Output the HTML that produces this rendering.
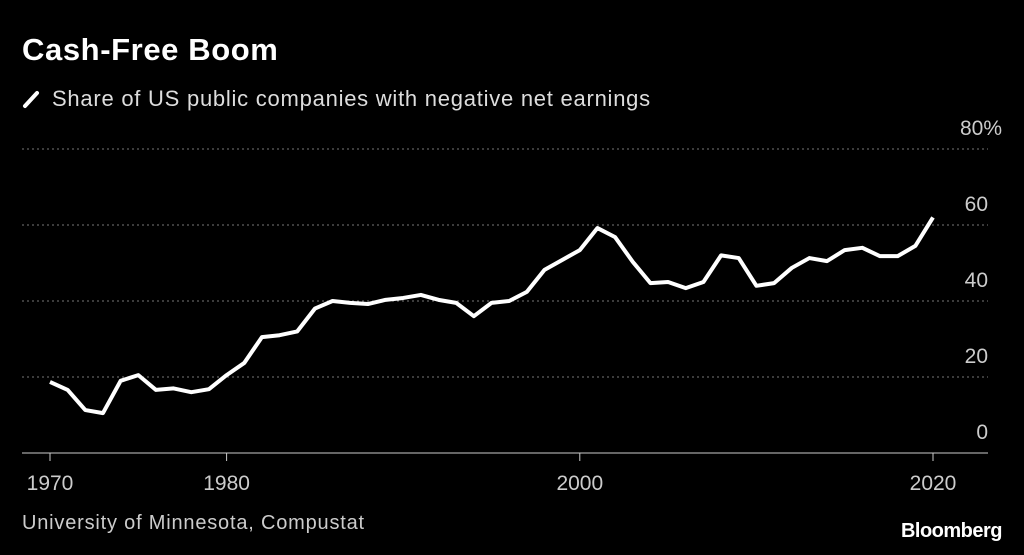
<!DOCTYPE html>
<html><head><meta charset="utf-8"><style>
html,body{margin:0;padding:0;background:#000;}
body{width:1024px;height:555px;overflow:hidden;font-family:"Liberation Sans",sans-serif;color:#fff;position:relative}
#title{position:absolute;left:22px;top:32px;font-size:31px;font-weight:bold;letter-spacing:0.6px}
#legend{position:absolute;left:22px;top:86px;font-size:22px;color:#ddd;letter-spacing:0.75px}
#source{position:absolute;left:22px;top:512px;font-size:20px;color:#ccc;letter-spacing:0.8px}
#brand{position:absolute;right:22px;top:520px;font-size:20px;font-weight:bold;letter-spacing:-0.5px}
svg{position:absolute;left:0;top:0}
</style></head><body>
<div id="title">Cash-Free Boom</div>
<div id="legend"><svg width="20" height="20" style="position:relative;vertical-align:-3px;margin-right:10px"><line x1="3" y1="17" x2="15" y2="4" stroke="#fff" stroke-width="4" stroke-linecap="round"/></svg>Share of US public companies with negative net earnings</div>
<div id="source">University of Minnesota, Compustat</div>
<div id="brand">Bloomberg</div>
<svg id="chart" width="1024" height="555"></svg>
<script>
const years=[];for(let y=1970;y<=2020;y++)years.push(y);
const values=[18.7,16.6,11.3,10.5,19,20.5,16.6,17,16,16.8,20.5,23.7,30.5,31,32,38,40,39.5,39.2,40.3,40.8,41.6,40.3,39.5,36,39.5,40,42.4,48.2,50.8,53.4,59.2,56.8,50.3,44.7,45,43.4,45,52,51.3,44,44.7,48.7,51.3,50.5,53.4,54,51.8,51.8,54.5,62];
const yTicks=[0,20,40,60,80];
const yTickLabels=["0","20","40","60","80%"];
const xTicks=[1970,1980,2000,2020];
const NS="http://www.w3.org/2000/svg";
const svg=document.getElementById('chart');
const x=v=>50+(v-1970)*(883/50);
const y=v=>453-v*3.8;
function mk(t,a){const e=document.createElementNS(NS,t);for(const k in a)e.setAttribute(k,a[k]);svg.appendChild(e);return e;}
yTicks.forEach((t,i)=>{
 if(t>0){const g=mk('line',{x1:22,x2:988,y1:y(t),y2:y(t),stroke:'#777','stroke-width':1,'stroke-dasharray':'2,3'});
 
 }
 const l=mk('text',{x:i==4?1002:988,y:y(t)-14,'text-anchor':'end','font-size':21,fill:'#ccc','font-family':'Liberation Sans, sans-serif'});
 l.textContent=yTickLabels[i];
 
 
});
const ax=mk('line',{x1:22,x2:988,y1:453,y2:453,stroke:'#ccc','stroke-width':1});


xTicks.forEach(t=>{
 const tk=mk('line',{x1:x(t),x2:x(t),y1:453,y2:461,stroke:'#ccc'});
 
 
 const l=mk('text',{x:x(t),y:490,'text-anchor':'middle','font-size':21,fill:'#ccc','font-family':'Liberation Sans, sans-serif'});
 l.textContent=t;
 
 
});
const p=mk('polyline',{points:years.map((yr,i)=>x(yr)+','+y(values[i])).join(' '),fill:'none',stroke:'#fff','stroke-width':4,'stroke-linejoin':'round'});


</script>
</body></html>
